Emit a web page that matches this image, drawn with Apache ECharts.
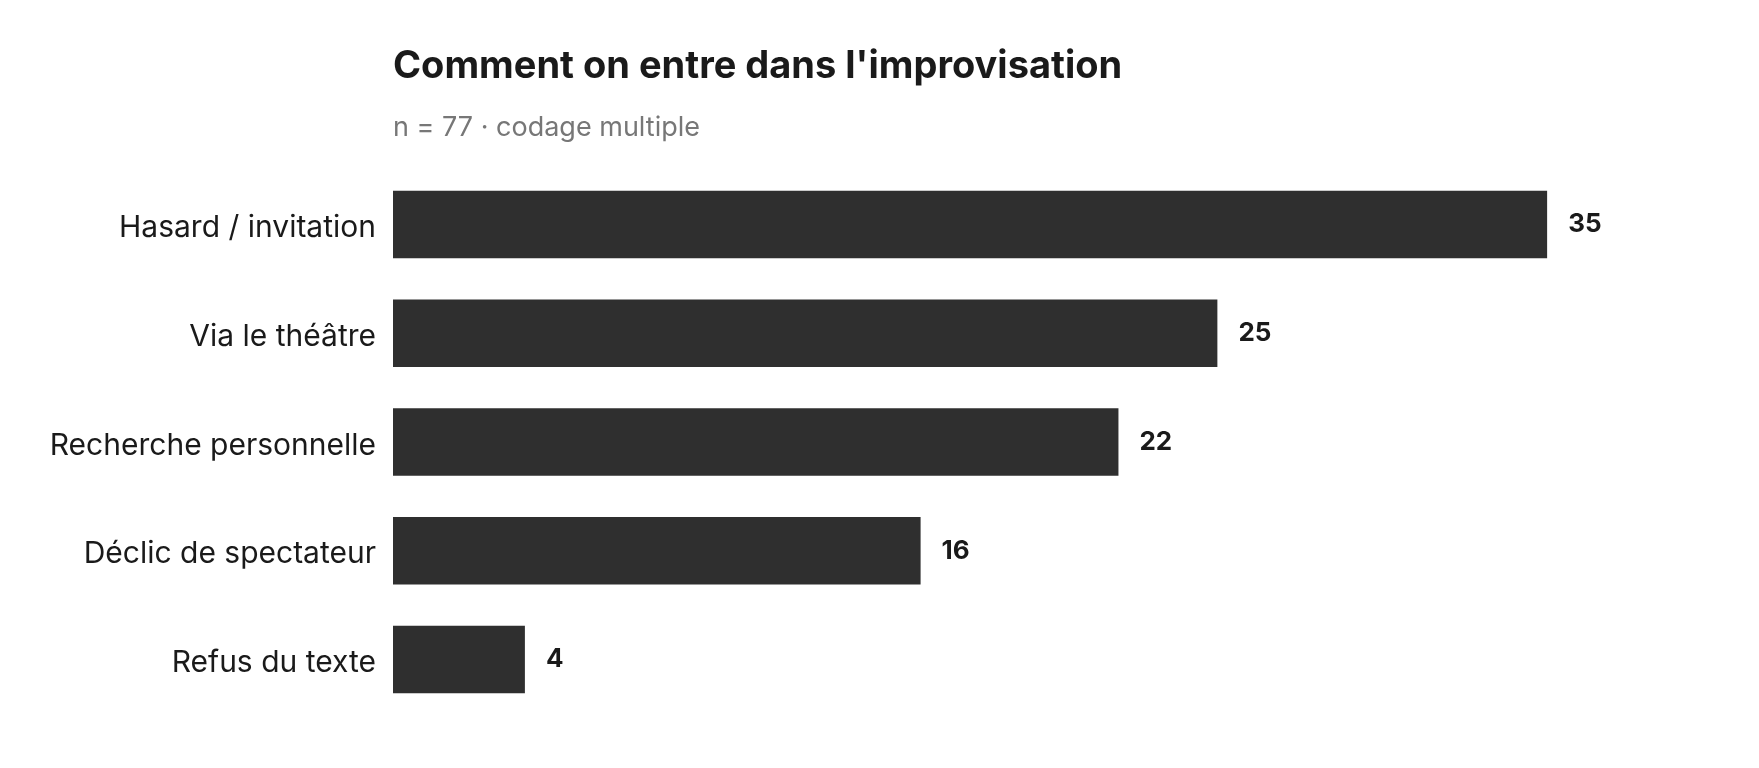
<!DOCTYPE html>
<html>
<head>
<meta charset="utf-8">
<script src="https://cdn.jsdelivr.net/npm/echarts@6/dist/echarts.min.js"></script>
<style>
  html, body { margin: 0; padding: 0; background: #fff; }
  #chart { width: 1759px; height: 768px; }
</style>
</head>
<body>
<div id="chart"></div>
<script>
// categories from top to bottom
var categories = ['Hasard / invitation', 'Via le théâtre', 'Recherche personnelle', 'Déclic de spectateur', 'Refus du texte'];
var counts = [35, 25, 22, 16, 4];
var titleText = "Comment on entre dans l'improvisation";
var subtitleText = 'n = 77 · codage multiple';

var font = 'Inter, "Noto Sans", sans-serif';

var chart = echarts.init(document.getElementById('chart'));
chart.setOption({
  backgroundColor: '#ffffff',
  animation: false,
  title: [
    {
      text: titleText,
      left: 393, top: 48, padding: 0,
      textStyle: { fontFamily: font, fontSize: 38, fontWeight: 'bold', color: '#1a1a1a' }
    },
    {
      text: subtitleText,
      left: 393, top: 114, padding: 0,
      textStyle: { fontFamily: font, fontSize: 27, fontWeight: 'normal', color: '#777777' }
    }
  ],
  grid: { left: 393, top: 170, width: 1319, height: 544, containLabel: false },
  xAxis: {
    type: 'value', min: 0, max: 40,
    show: false
  },
  yAxis: {
    type: 'category',
    data: categories,
    inverse: true,
    axisLine: { show: false },
    axisTick: { show: false },
    splitLine: { show: false },
    axisLabel: {
      margin: 17,
      formatter: '{a|{value}}',
      rich: { a: { padding: [7, 0, 0, 0], fontFamily: font, fontSize: 30, color: '#1a1a1a' } }
    }
  },
  series: [{
    type: 'bar',
    data: counts,
    barCategoryGap: '38%',
    itemStyle: { color: '#2f2f2f' },
    label: {
      show: true, position: 'right', distance: 21,
      fontFamily: font, fontSize: 26, fontWeight: 'bold', color: '#1a1a1a'
    }
  }]
});
</script>
</body>
</html>
